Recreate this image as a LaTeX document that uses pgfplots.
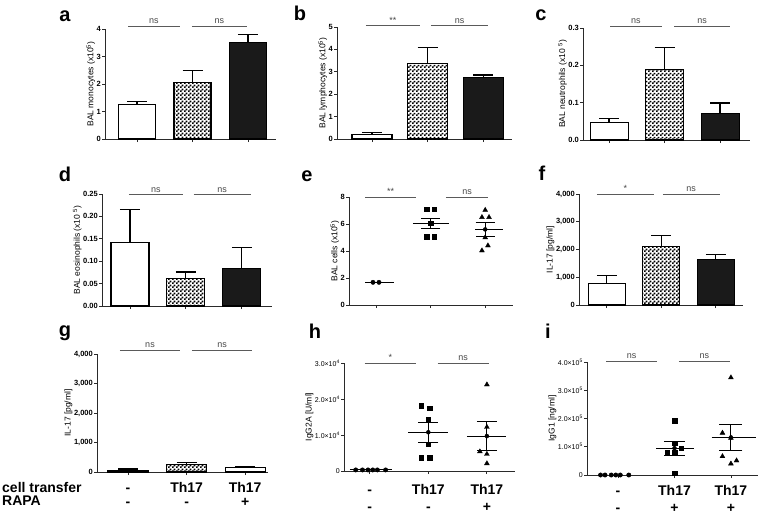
\documentclass[border=0pt]{standalone}
\usepackage{fontspec}
\setmainfont{Liberation Sans}
\usepackage{pgfplots}
\pgfplotsset{compat=1.18}
\usetikzlibrary{patterns}

% fine checkerboard for the Th17 bars
\pgfdeclarepatternformonly{smallcheck}{\pgfpointorigin}{\pgfqpoint{4pt}{4pt}}{\pgfqpoint{4pt}{4pt}}{%
  \pgfpathrectangle{\pgfpointorigin}{\pgfqpoint{2pt}{2pt}}%
  \pgfpathrectangle{\pgfqpoint{2pt}{2pt}}{\pgfqpoint{2pt}{2pt}}%
  \pgfusepath{fill}}

\definecolor{sigGrey}{HTML}{5A5A5A}
\definecolor{barBlack}{HTML}{1A1A1A}
\definecolor{axGrey}{HTML}{2A2A2A}

\newcommand{\tickfont}{\fontsize{7.5}{8}\selectfont\bfseries}
\newcommand{\smalltickfont}{\fontsize{7}{8}\selectfont}
\newcommand{\labfont}{\fontsize{8.5}{9}\selectfont}
\newcommand{\letterfont}{\fontsize{20}{20}\selectfont\bfseries}
\newcommand{\bottomfont}{\fontsize{14}{14}\selectfont\bfseries}
\newcommand{\widebottomfont}{\fontsize{14}{17}\selectfont\bfseries}

\pgfplotsset{
  panel/.style={
    scale only axis, anchor=south west,
    axis x line*=bottom, axis y line*=left,
    axis line style={line width=1pt, axGrey},
    tick align=outside, major tick length=3pt,
    tick style={line width=0.8pt, axGrey},
    xtick={0,1,2}, xticklabels={},
    ymin=0, enlargelimits=false, clip=false,
    yticklabel style={font=\tickfont, inner sep=1pt},
    ylabel style={font=\labfont, yshift=-3pt},
    /pgf/number format/assume math mode=true,
  },
  bar/.style={
    ybar, bar shift=0pt, draw=black, line width=1.1pt,
    error bars/y dir=plus, error bars/y explicit,
    error bars/error bar style={line width=1.2pt, black},
    error bars/error mark options={rotate=90, line width=1.2pt, black, mark size=10pt},
  },
  dots/.style={only marks, black, mark options={line width=0.4pt, fill=black}},
  meanline/.style={black, line width=1.1pt, mark=none},
  sem/.style={
    only marks, mark=none,
    error bars/y dir=both, error bars/y explicit,
    error bars/error bar style={line width=1.1pt, black},
    error bars/error mark options={rotate=90, line width=1.1pt, black, mark size=#1},
  },
  sem/.default=10pt,
  bottomrow/.style={
    xticklabel style={font=\bottomfont, align=center, inner sep=0pt, yshift=-7pt},
  },
}

\newcommand{\sig}[4]{%
  \draw[sigGrey, line width=0.9pt] (axis cs:#1,#3) -- (axis cs:#2,#3)
    node[midway, above=2pt, inner sep=0pt, font=\fontsize{9}{9}\selectfont, text=sigGrey!80!black] {#4};}

\begin{document}
\begin{tikzpicture}
\path[use as bounding box] (0pt,0pt) rectangle (760pt,-515pt);

% ---------- a ----------
\begin{axis}[panel, at={(105pt,-139pt)}, width=171pt, height=110pt,
  xmin=-0.577, xmax=2.505, ymax=4, ytick={0,1,2,3,4},
  ylabel={BAL monocytes (x10\textsuperscript{5})}]
\addplot[bar, bar width=37pt, fill=white] coordinates {(0,1.27) +- (0,0.09)};
\addplot[bar, bar width=37pt, pattern=smallcheck] coordinates {(1,2.05) +- (0,0.45)};
\addplot[bar, bar width=37pt, fill=barBlack] coordinates {(2,3.5) +- (0,0.3)};
\sig{-0.16}{0.77}{4.11}{ns}
\sig{0.99}{1.98}{4.11}{ns}
\end{axis}

% ---------- b ----------
\begin{axis}[panel, at={(337pt,-139pt)}, width=175pt, height=112pt,
  xmin=-0.63, xmax=2.52, ymax=5, ytick={0,1,2,3,4,5},
  ylabel={BAL lymphocytes (x10\textsuperscript{5})}]
\addplot[bar, bar width=40pt, fill=white] coordinates {(0,0.21) +- (0,0.09)};
\addplot[bar, bar width=40pt, pattern=smallcheck] coordinates {(1,3.38) +- (0,0.7)};
\addplot[bar, bar width=40pt, fill=barBlack] coordinates {(2,2.75) +- (0,0.11)};
\sig{-0.11}{0.86}{5.06}{**}
\sig{1.06}{2.09}{5.06}{ns}
\end{axis}

% ---------- c ----------
\begin{axis}[panel, at={(583pt,-140pt)}, width=167pt, height=112pt,
  xmin=-0.47, xmax=2.54, ymax=0.3, ytick={0,0.1,0.2,0.3},
  yticklabels={0.0,0.1,0.2,0.3},
  ylabel={BAL neutrophils (x10 \textsuperscript{5})}]
\addplot[bar, bar width=38pt, fill=white] coordinates {(0,0.046) +- (0,0.012)};
\addplot[bar, bar width=38pt, pattern=smallcheck] coordinates {(1,0.19) +- (0,0.058)};
\addplot[bar, bar width=38pt, fill=barBlack] coordinates {(2,0.07) +- (0,0.029)};
\sig{0.02}{0.95}{0.304}{ns}
\sig{1.17}{2.18}{0.304}{ns}
\end{axis}

% ---------- d ----------
\begin{axis}[panel, at={(102pt,-306pt)}, width=170pt, height=112pt,
  xmin=-0.5, xmax=2.54, ymax=0.25, ytick={0,0.05,0.10,0.15,0.20,0.25},
  yticklabels={0.00,0.05,0.10,0.15,0.20,0.25},
  ylabel={BAL eosinophils (x10 \textsuperscript{5})}]
\addplot[bar, bar width=38pt, fill=white] coordinates {(0,0.1425) +- (0,0.0735)};
\addplot[bar, bar width=38pt, pattern=smallcheck] coordinates {(1,0.0605) +- (0,0.0155)};
\addplot[bar, bar width=38pt, fill=barBlack] coordinates {(2,0.084) +- (0,0.047)};
\sig{-0.02}{0.95}{0.248}{ns}
\sig{1.14}{2.16}{0.248}{ns}
\end{axis}

% ---------- e ----------
\begin{axis}[panel, at={(349pt,-305pt)}, width=164pt, height=108pt,
  xmin=-0.5, xmax=2.51, ymax=8, ytick={0,2,4,6,8},
  ylabel={BAL cells (x10\textsuperscript{5})}]
\addplot[dots, mark=*, mark size=2.2pt] coordinates {(-0.06,1.68) (0.05,1.68)};
\addplot[meanline] coordinates {(-0.2,1.68) (0.33,1.68)};
\addplot[dots, mark=square*, mark size=2.3pt] coordinates
  {(0.93,7.1) (1.06,7.1) (1,6.05) (0.93,5.05) (1.06,5.05)};
\addplot[meanline] coordinates {(0.67,6.07) (1.33,6.07)};
\addplot[sem=9.5pt] coordinates {(1,6.07) +- (0,0.37)};
\addplot[dots, mark=triangle*, mark size=2.8pt] coordinates
  {(2,7.03) (1.94,6.5) (2.07,6.5) (2,5.0) (2.05,4.4) (1.94,4.03)};
\addplot[meanline] coordinates {(1.82,5.6) (2.33,5.6)};
\addplot[sem=9.5pt] coordinates {(2,5.6) +- (0,0.53)};
\sig{-0.2}{0.73}{8}{**}
\sig{1.28}{2.06}{8}{ns}
\end{axis}

% ---------- f ----------
\begin{axis}[panel, at={(579pt,-305pt)}, width=164pt, height=111pt,
  xmin=-0.51, xmax=2.5, ymax=4000, ytick={0,1000,2000,3000,4000},
  yticklabels={0,{1,000},{2,000},{3,000},{4,000}},
  ylabel={IL-17 [pg/ml]}]
\addplot[bar, bar width=37pt, fill=white] coordinates {(0,760) +- (0,300)};
\addplot[bar, bar width=37pt, pattern=smallcheck] coordinates {(1,2110) +- (0,385)};
\addplot[bar, bar width=37pt, fill=barBlack] coordinates {(2,1650) +- (0,180)};
\sig{-0.18}{0.86}{4000}{*}
\sig{1.03}{2.07}{4000}{ns}
\end{axis}

% ---------- g ----------
\begin{axis}[panel, bottomrow, at={(97pt,-472pt)}, width=171pt, height=118pt,
  xmin=-0.53, xmax=2.39, ymax=4000, ytick={0,1000,2000,3000,4000},
  yticklabels={0,{1,000},{2,000},{3,000},{4,000}},
  xticklabels={{\vphantom{Th17}-\\-},{Th17\\-},{Th17\\+}},
  ylabel={IL-17 [pg/ml]}]
\addplot[bar, bar width=40pt, fill=barBlack] coordinates {(0,60) +- (0,40)};
\addplot[bar, bar width=40pt, pattern=smallcheck] coordinates {(1,250) +- (0,65)};
\addplot[bar, bar width=40pt, fill=white] coordinates {(2,160) +- (0,35)};
\sig{-0.14}{0.89}{4122}{ns}
\sig{1.09}{2.12}{4122}{ns}
\end{axis}

% ---------- h ----------
\begin{axis}[panel, bottomrow, at={(344pt,-471pt)}, width=171pt, height=108pt,
  xmin=-0.44, xmax=2.48, ymax=3, ytick={0,1,2,3},
  yticklabel style={font=\smalltickfont},
  yticklabels={0,1.0×10\textsuperscript{4},2.0×10\textsuperscript{4},3.0×10\textsuperscript{4}},
  xticklabels={{\vphantom{Th17}-\\-},{Th17\\-},{Th17\\+}},
  xticklabel style={font=\widebottomfont, yshift=-3pt},
  ylabel={IgG2A [U/ml]}]
\addplot[dots, mark=*, mark size=2.2pt] coordinates
  {(-0.24,0.03) (-0.125,0.03) (-0.03,0.03) (0.05,0.03) (0.13,0.03) (0.27,0.03)};
\addplot[meanline] coordinates {(-0.34,0.03) (0.38,0.03)};
\addplot[dots, mark=square*, mark size=2.3pt] coordinates
  {(0.88,1.81) (1.02,1.75) (1,1.42) (1,0.74) (0.88,0.37) (1.02,0.37)};
\addplot[meanline] coordinates {(0.66,1.077) (1.34,1.077)};
\addplot[sem=10pt] coordinates {(1,1.077) +- (0,0.275)};
\addplot[dots, mark=triangle*, mark size=2.8pt] coordinates
  {(2,2.4) (2,1.22) (1.88,0.54) (2,0.47) (2,0.21)};
\addplot[meanline] coordinates {(1.66,0.97) (2.32,0.97)};
\addplot[sem=10pt] coordinates {(2,0.97) +- (0,0.4)};
\sig{-0.09}{0.79}{3}{*}
\sig{1.16}{2.03}{3}{ns}
\end{axis}

% ---------- i ----------
\begin{axis}[panel, bottomrow, at={(587pt,-475pt)}, width=171pt, height=113pt,
  xmin=-0.55, xmax=2.48, ymax=4, ytick={0,1,2,3,4},
  yticklabel style={font=\smalltickfont},
  yticklabels={0,1.0×10\textsuperscript{5},2.0×10\textsuperscript{5},3.0×10\textsuperscript{5},4.0×10\textsuperscript{5}},
  xticklabels={{\vphantom{Th17}-\\-},{Th17\\+},{Th17\\+}},
  xticklabel style={font=\widebottomfont},
  ylabel={IgG1 [ng/ml]}]
\addplot[dots, mark=*, mark size=2.2pt] coordinates
  {(-0.31,0) (-0.23,0) (-0.12,0) (-0.04,0) (0.04,0) (0.19,0)};
\addplot[dots, mark=square*, mark size=2.3pt] coordinates
  {(1,1.93) (1,1.13) (1.12,0.955) (0.87,0.81) (1,0.81) (1,0.07)};
\addplot[meanline] coordinates {(0.68,0.95) (1.34,0.95)};
\addplot[sem=10.5pt] coordinates {(1,0.95) +- (0,0.25)};
\addplot[dots, mark=triangle*, mark size=2.8pt] coordinates
  {(2,3.45) (1.85,1.49) (2,1.31) (1.85,0.66) (2,0.4) (2.1,0.51)};
\addplot[meanline] coordinates {(1.66,1.33) (2.45,1.33)};
\addplot[sem=11.5pt] coordinates {(2,1.33) +- (0,0.46)};
\sig{-0.21}{0.69}{4.02}{ns}
\sig{1.08}{1.98}{4.02}{ns}
\end{axis}

% panel letters and row captions
\node[anchor=base, font=\letterfont] at (65pt,-21pt) {a};
\node[anchor=base, font=\letterfont] at (300pt,-20pt) {b};
\node[anchor=base, font=\letterfont] at (541pt,-20pt) {c};
\node[anchor=base, font=\letterfont] at (65pt,-181pt) {d};
\node[anchor=base, font=\letterfont] at (307pt,-181pt) {e};
\node[anchor=base, font=\letterfont] at (542pt,-180pt) {f};
\node[anchor=base, font=\letterfont] at (65pt,-336pt) {g};
\node[anchor=base, font=\letterfont] at (315pt,-338pt) {h};
\node[anchor=base, font=\letterfont] at (548pt,-338pt) {i};
\node[anchor=base west, font=\bottomfont, inner sep=0pt] at (2pt,-492pt) {cell transfer};
\node[anchor=base west, font=\bottomfont, inner sep=0pt] at (2pt,-505pt) {RAPA};
\end{tikzpicture}
\end{document}
